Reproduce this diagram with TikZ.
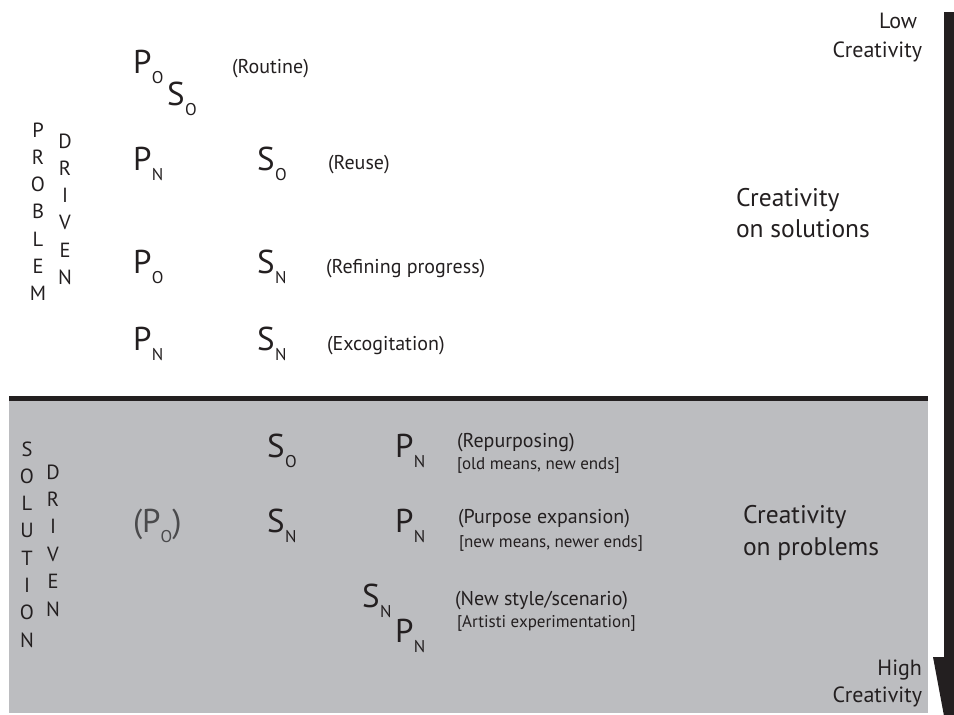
\documentclass[tikz,border=0pt]{standalone}
\usepackage{fontspec}
\setmainfont{PT Sans}
\definecolor{ink}{HTML}{231F20}
\definecolor{panel}{HTML}{BCBDC0}
\definecolor{mutedink}{HTML}{4A4A4C}
\newcommand{\bigsym}[2]{{\fontsize{33}{33}\selectfont #1}\hspace{0.5pt}\raisebox{-10pt}{\fontsize{17}{17}\selectfont #2}}
\begin{document}
\begin{tikzpicture}[x=1pt,y=-1pt,
  every node/.style={text=ink,inner sep=0pt,outer sep=0pt},
  sym/.style={anchor=base west},
  lab/.style={anchor=base west,font=\fontsize{20}{20}\selectfont},
  sublab/.style={anchor=base west,font=\fontsize{17}{17}\selectfont},
  bigtxt/.style={anchor=base west,font=\fontsize{25.5}{25.5}\selectfont},
  endtxt/.style={anchor=base east,font=\fontsize{22}{22}\selectfont},
  vlet/.style={anchor=base,font=\fontsize{20.5}{20.5}\selectfont}]
\useasboundingbox (0,0) rectangle (954,715);
\clip (0,0) rectangle (954,715);
% lower panel
\fill[panel] (9,398) rectangle (928,713);
\fill[ink] (9,396) rectangle (928,401);
% arrow
\fill[ink] (944,12) rectangle (955,658);
\fill[ink] (933,657) -- (967,657) -- (950,748) -- cycle;
% problem driven
\foreach \l [count=\i] in {P,R,O,B,L,E,M}
  \node[vlet] (pd\i) at (38,{137+27.3*(\i-1)}) {\l};
\foreach \l [count=\i] in {D,R,I,V,E,N}
  \node[vlet] (dd\i) at (65,{148+27.3*(\i-1)}) {\l};
% solution driven
\foreach \l [count=\i] in {S,O,L,U,T,I,O,N}
  \node[vlet] (sd\i) at (27,{456+27.3*(\i-1)}) {\l};
\foreach \l [count=\i] in {D,R,I,V,E,N}
  \node[vlet] (sdd\i) at (53,{479+27.4*(\i-1)}) {\l};
% upper rows
\node[sym] (r1P) at (133,73) {\bigsym{P}{O}};
\node[sym] (r1S) at (167,105) {\bigsym{S}{O}};
\node[lab] (r1L) at (232,73) {(Routine)};
\node[sym] (r2P) at (133,170) {\bigsym{P}{N}};
\node[sym] (r2S) at (257,170) {\bigsym{S}{O}};
\node[lab] (r2L) at (328,169) {(Reuse)};
\node[sym] (r3P) at (133,273) {\bigsym{P}{O}};
\node[sym] (r3S) at (257,273) {\bigsym{S}{N}};
\node[lab] (r3L) at (326,273) {(Refining progress)};
\node[sym] (r4P) at (133,350) {\bigsym{P}{N}};
\node[sym] (r4S) at (257,350) {\bigsym{S}{N}};
\node[lab] (r4L) at (327,350) {(Excogitation)};
\node[bigtxt] (cs1) at (736,206) {Creativity};
\node[bigtxt] (cs2) at (736,237) {on solutions};
\node[endtxt] (low1) at (917,28) {Low};
\node[endtxt] (low2) at (922,57) {Creativity};
% lower rows
\node[sym] (b1S) at (267,457) {\bigsym{S}{O}};
\node[sym] (b1P) at (395,457) {\bigsym{P}{N}};
\node[lab] (b1L) at (457,447) {(Repurposing)};
\node[sublab] (b1M) at (457,469) {[old means, new ends]};
\node[sym,text=mutedink] (b2Po) at (133,532) {{\fontsize{33}{33}\selectfont (P}\raisebox{-10pt}{\fontsize{17}{17}\selectfont O}{\fontsize{33}{33}\selectfont )}};
\node[sym] (b2S) at (267,532) {\bigsym{S}{N}};
\node[sym] (b2P) at (395,532) {\bigsym{P}{N}};
\node[lab] (b2L) at (458,523) {(Purpose expansion)};
\node[sublab] (b2M) at (459,547) {[new means, newer ends]};
\node[sym] (b3S) at (362,607) {\bigsym{S}{N}};
\node[sym] (b3P) at (395,642) {\bigsym{P}{N}};
\node[lab] (b3L) at (455,605) {(New style/scenario)};
\node[sublab] (b3M) at (457,627) {[Artisti experimentation]};
\node[bigtxt] (cp1) at (743,523) {Creativity};
\node[bigtxt] (cp2) at (743,555) {on problems};
\node[endtxt] (high1) at (922,675) {High};
\node[endtxt] (high2) at (922,702) {Creativity};
\end{tikzpicture}
\end{document}
